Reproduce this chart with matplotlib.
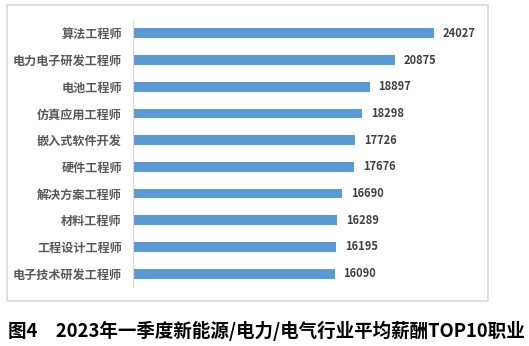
import matplotlib.pyplot as plt
from matplotlib.patches import Rectangle

plt.rcParams['font.family'] = ['Noto Sans CJK SC', 'DejaVu Sans']

jobs = ['算法工程师', '电力电子研发工程师', '电池工程师', '仿真应用工程师', '嵌入式软件开发',
        '硬件工程师', '解决方案工程师', '材料工程师', '工程设计工程师', '电子技术研发工程师']
salary = [24027, 20875, 18897, 18298, 17726, 17676, 16690, 16289, 16195, 16090]
caption = '图4　2023年一季度新能源/电力/电气行业平均薪酬TOP10职业'

W, H = 529, 346
fig = plt.figure(figsize=(W / 100, H / 100), dpi=100)

# chart frame
fig.patches.append(Rectangle((7 / W, 1 - 301 / H), 481 / W, 296 / H, transform=fig.transFigure,
                             fill=False, edgecolor='#d9d9d9', linewidth=1.2))

ax = fig.add_axes([133 / W, 1 - 287 / H, 347 / W, 267 / H])
ypos = list(range(len(jobs)))
ax.barh(ypos, salary, height=0.37, color='#5b9bd5')
ax.set_xlim(0, 27700)
ax.set_ylim(len(jobs) - 0.5, -0.5)
ax.set_yticks(ypos)
ax.set_yticklabels(jobs, fontsize=8.7, color='#595959', fontweight='bold')
ax.tick_params(axis='y', length=0, pad=8)
ax.set_xticks([])
for s in ['top', 'right', 'bottom']:
    ax.spines[s].set_visible(False)
ax.spines['left'].set_color('#d9d9d9')

for y, v in zip(ypos, salary):
    ax.text(v + 700, y, str(v), va='center', ha='left', fontsize=8, color='#404040', fontweight='bold')

fig.text(8 / W, 1 - 331 / H, caption, fontsize=13.3, fontweight='bold', color='black', va='center', ha='left')

fig.savefig('out.png', dpi=100)
